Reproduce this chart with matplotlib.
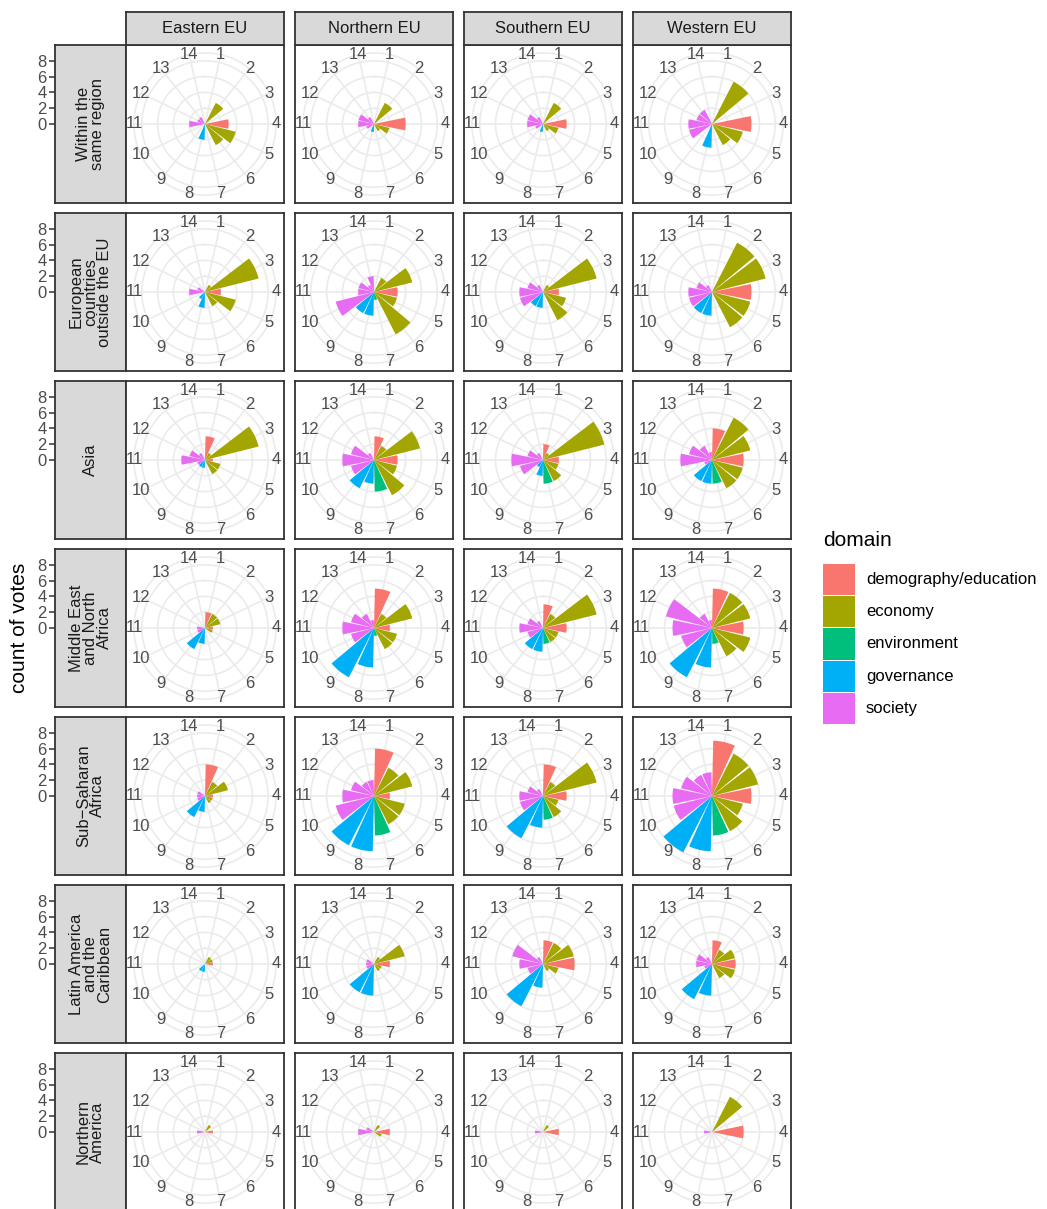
import matplotlib
matplotlib.use('Agg')
import matplotlib.pyplot as plt
import numpy as np
from matplotlib.patches import Rectangle

plt.rcParams['font.family'] = ['Liberation Sans', 'DejaVu Sans']

# ---------------- data ----------------
eu_regions = ['Eastern EU', 'Northern EU', 'Southern EU', 'Western EU']
origin_regions = ['Within the\nsame region', 'European\ncountries\noutside the EU', 'Asia',
                  'Middle East\nand North\nAfrica', 'Sub\u2212Saharan\nAfrica',
                  'Latin America\nand the\nCaribbean', 'Northern\nAmerica']
items = list(range(1, 15))
domains = ['demography/education', 'economy', 'environment', 'governance', 'society']
domain_colors = ['#F8766D', '#A3A500', '#00BF7D', '#00B0F6', '#E76BF3']
item_domain = ['demography/education', 'economy', 'economy', 'demography/education',
               'economy', 'economy', 'environment', 'governance', 'governance',
               'society', 'society', 'society', 'society', 'society']
r_ticks = [0, 2, 4, 6, 8]

# counts per item (1..14), one row per EU region (Eastern, Northern, Southern, Western)
votes_within = [
    [0, 3, 0, 3, 4, 3, 0, 2, 0, 0, 2, 1, 1, 0],
    [0, 3, 0, 4, 2, 1, 0, 1, 0, 1, 2, 2, 1, 0],
    [0, 3, 0, 3, 2, 1, 0, 1, 0, 1, 2, 2, 1, 0],
    [0, 6, 0, 5, 4, 3, 0, 3, 0, 3, 3, 2, 2, 0],
]
votes_europe_non_eu = [
    [0, 1, 7, 2, 4, 2, 0, 2, 1, 0, 2, 1, 0, 0],
    [0, 2, 5, 3, 3, 6, 1, 3, 3, 5, 2, 2, 1, 2],
    [0, 1, 7, 2, 3, 4, 0, 2, 2, 3, 3, 2, 1, 0],
    [0, 7, 7, 5, 5, 5, 0, 3, 3, 3, 3, 2, 1, 0],
]
votes_asia = [
    [3, 1, 7, 1, 2, 2, 0, 1, 1, 1, 3, 2, 1, 0],
    [3, 2, 6, 3, 3, 5, 4, 3, 4, 3, 4, 3, 1, 0],
    [2, 1, 8, 2, 2, 3, 3, 2, 1, 3, 4, 2, 1, 0],
    [4, 6, 5, 4, 4, 4, 3, 3, 3, 1, 4, 3, 2, 1],
]
votes_mena = [
    [2, 2, 2, 1, 1, 0, 0, 2, 3, 1, 1, 0, 0, 0],
    [5, 2, 5, 2, 3, 3, 1, 5, 7, 3, 4, 3, 2, 1],
    [3, 2, 7, 3, 2, 2, 2, 3, 3, 2, 3, 2, 1, 0],
    [5, 5, 5, 4, 5, 4, 2, 5, 7, 4, 5, 6, 2, 1],
]
votes_ssa = [
    [4, 2, 3, 1, 1, 1, 0, 2, 3, 1, 1, 1, 0, 0],
    [6, 4, 5, 2, 4, 4, 5, 7, 7, 5, 4, 3, 2, 2],
    [4, 2, 7, 3, 2, 3, 3, 4, 6, 3, 3, 2, 1, 0],
    [7, 6, 6, 5, 4, 5, 5, 7, 8, 5, 5, 4, 3, 3],
]
votes_latam = [
    [0, 1, 1, 1, 0, 0, 0, 1, 1, 0, 0, 0, 0, 0],
    [0, 1, 4, 2, 1, 1, 0, 4, 4, 1, 1, 1, 0, 0],
    [3, 3, 4, 4, 2, 1, 0, 3, 6, 2, 3, 4, 1, 0],
    [3, 2, 3, 3, 3, 2, 0, 4, 5, 1, 2, 2, 1, 0],
]
votes_namerica = [
    [0, 1, 0, 1, 0, 0, 0, 0, 0, 0, 1, 0, 0, 0],
    [0, 1, 0, 2, 1, 0, 0, 0, 0, 0, 2, 1, 0, 0],
    [0, 1, 0, 2, 0, 0, 0, 0, 0, 0, 1, 0, 0, 0],
    [0, 5, 0, 4, 0, 0, 0, 0, 0, 0, 1, 0, 0, 0],
]
votes_by_origin = [votes_within, votes_europe_non_eu, votes_asia, votes_mena,
                   votes_ssa, votes_latam, votes_namerica]

# ---------------- layout ----------------
W, H = 1047, 1209
fig = plt.figure(figsize=(W / 100, H / 100), dpi=100)
fig.patch.set_facecolor('white')

def px_axes(x, y, w, h, **kw):
    return fig.add_axes([x / W, 1 - (y + h) / H, w / W, h / H], **kw)

P = 158.0
PITCH_X = 169.0
PITCH_Y = 168.0
X0, Y0 = 126.0, 45.0
STRIP_X, STRIP_W = 55.0, 71.0
STRIP_TOP, STRIP_H = 12.0, 33.0
BORDER = '#333333'
GRID = '#EBEBEB'
STRIP_BG = '#D9D9D9'
RMAX_DATA = 8.0          # r range [0, 8] -> 0.4 of panel
ROUTER = RMAX_DATA * 0.45 / 0.4

color_of = dict(zip(domains, domain_colors))
bar_colors = [color_of[d] for d in item_domain]
n_items = len(items)
theta = 2 * np.pi * (np.array(items) - 0.5) / n_items
bar_width = 0.9 * 2 * np.pi / n_items

def style_box(ax, lw=1.3):
    for s in ax.spines.values():
        s.set_color(BORDER)
        s.set_linewidth(lw)

for r, (origin, votes) in enumerate(zip(origin_regions, votes_by_origin)):
    y = Y0 + r * PITCH_Y
    # row strip (with radial axis ticks on its outer side)
    sax = px_axes(STRIP_X, y, STRIP_W, P)
    sax.set_facecolor(STRIP_BG)
    sax.set_xlim(0, 1)
    sax.set_ylim(-RMAX_DATA * 0.5 / 0.4, RMAX_DATA * 0.5 / 0.4)
    sax.set_xticks([])
    sax.set_yticks(r_ticks)
    sax.set_yticklabels([str(t) for t in r_ticks])
    sax.tick_params(axis='y', length=4.5, width=1.1, color=BORDER,
                    labelcolor='#4D4D4D', labelsize=12, pad=1.5)
    style_box(sax)
    sax.text(0.5, 0, origin, rotation=90, ha='center', va='center', fontsize=12,
             color='#1A1A1A', linespacing=0.95, transform=sax.transData)

    for c, region in enumerate(eu_regions):
        x = X0 + c * PITCH_X
        fax = px_axes(x, y, P, P)
        fax.set_xticks([])
        fax.set_yticks([])
        fax.set_facecolor('white')
        style_box(fax)

        pax = px_axes(x + 0.05 * P, y + 0.05 * P, 0.9 * P, 0.9 * P, projection='polar')
        pax.set_facecolor('none')
        pax.set_theta_zero_location('N')
        pax.set_theta_direction(-1)
        pax.set_axisbelow(True)
        pax.bar(theta, votes[c], width=bar_width, color=bar_colors,
                edgecolor='none', align='center', zorder=3)
        pax.set_ylim(0, ROUTER)
        pax.set_yticks(r_ticks[1:])
        pax.set_yticklabels([])
        pax.set_xticks(theta)
        pax.set_xticklabels([])
        pax.tick_params(length=0)
        pax.grid(True, color=GRID, linewidth=1.2)
        pax.spines['polar'].set_color(GRID)
        pax.spines['polar'].set_linewidth(1.2)
        for t, lab in zip(theta, items):
            pax.text(t, ROUTER, str(lab), ha='center', va='center', fontsize=12,
                     color='#4D4D4D', zorder=5, clip_on=False)

        if r == 0:
            cax = px_axes(x, STRIP_TOP, P, STRIP_H)
            cax.set_facecolor(STRIP_BG)
            cax.set_xticks([])
            cax.set_yticks([])
            style_box(cax)
            cax.text(0.5, 0.5, region, ha='center', va='center', fontsize=12,
                     color='#1A1A1A', transform=cax.transAxes)

# y axis title
fig.text(20 / W, 1 - 628 / H, 'count of votes', rotation=90, ha='center', va='center',
         fontsize=15, color='black')

# legend
lax = px_axes(815, 520, 232, 215)
lax.set_xlim(815, 1047)
lax.set_ylim(735, 520)
lax.axis('off')
lax.text(823, 541, 'domain', ha='left', va='center', fontsize=15, color='black')
KEY = 32.4
for i, (d, col) in enumerate(zip(domains, domain_colors)):
    ky = 563 + i * KEY
    lax.add_patch(Rectangle((823, ky + 0.6), 32, KEY - 1.2, facecolor=col, edgecolor='none'))
    lax.text(866, ky + KEY / 2, d, ha='left', va='center', fontsize=12, color='black')

fig.savefig('out.png', dpi=100, facecolor='white')
